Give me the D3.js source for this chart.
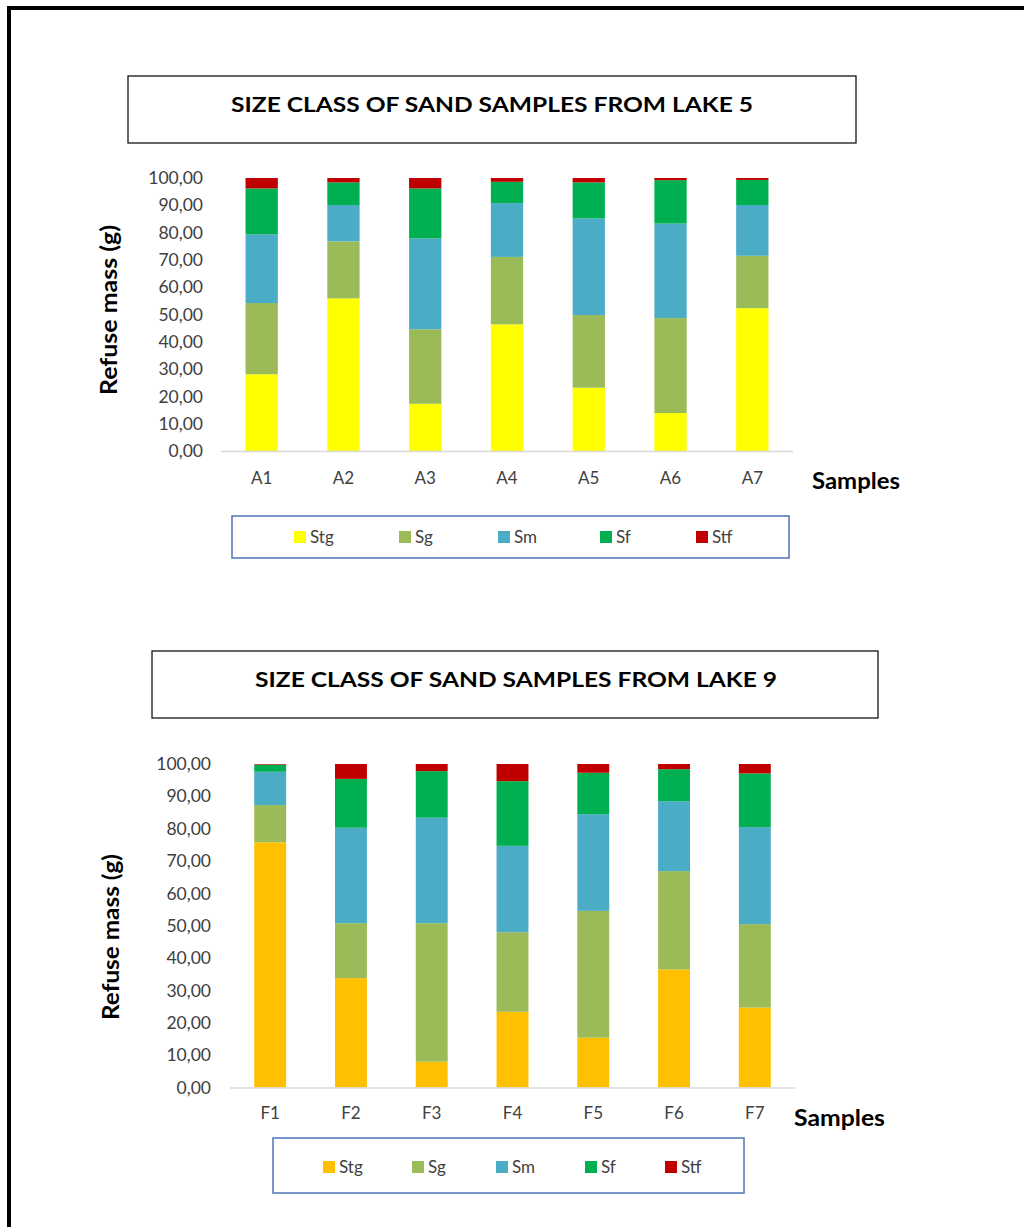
<!DOCTYPE html>
<html><head><meta charset="utf-8">
<script src="https://cdn.jsdelivr.net/npm/d3@7"></script>
<style>body{margin:0;background:#fff}svg{display:block}</style>
</head><body>
<script>
const seriesNames = ["Stg","Sg","Sm","Sf","Stf"];
const tickLabels = ["0,00","10,00","20,00","30,00","40,00","50,00","60,00","70,00","80,00","90,00","100,00"];
const tickValues = [0,10,20,30,40,50,60,70,80,90,100];

const lake5Samples = ["A1","A2","A3","A4","A5","A6","A7"];
const lake5Stg = [28.1,55.9,17.3,46.4,23.2,13.9,52.3];
const lake5Sg  = [26.1,20.9,27.3,24.7,26.6,34.8,19.2];
const lake5Sm  = [25.2,13.3,33.3,19.7,35.4,34.6,18.6];
const lake5Sf  = [16.8,8.3,18.3,7.8,13.2,15.9,9.2];
const lake5Stf = [3.8,1.6,3.8,1.4,1.6,0.8,0.7];

const lake9Samples = ["F1","F2","F3","F4","F5","F6","F7"];
const lake9Stg = [75.8,33.8,8.0,23.4,15.4,36.5,24.7];
const lake9Sg  = [11.5,17.0,42.8,24.6,39.2,30.4,25.8];
const lake9Sm  = [10.3,29.5,32.6,26.7,29.9,21.6,30.0];
const lake9Sf  = [2.2,15.1,14.4,20.0,12.8,9.9,16.6];
const lake9Stf = [0.2,4.6,2.2,5.3,2.7,1.6,2.9];

const lake5Colors = ["#ffff00","#9bbb59","#4bacc6","#00b050","#c00000"];
const lake9Colors = ["#ffc000","#9bbb59","#4bacc6","#00b050","#c00000"];

const svg = d3.select("body").append("svg").attr("width",1024).attr("height",1227);
const FONT = "Lato, 'Open Sans', sans-serif";

// outer frame
svg.append("path").attr("d","M9,1227 V8 H1024").attr("fill","none").attr("stroke","#000").attr("stroke-width",4);

function drawChart(cfg){
  const g = svg.append("g");
  // title box
  g.append("rect").attr("x",cfg.title.x).attr("y",cfg.title.y).attr("width",cfg.title.w).attr("height",cfg.title.h)
    .attr("fill","#fff").attr("stroke","#000").attr("stroke-width",1.2);
  g.append("text").attr("x",cfg.title.tx).attr("y",cfg.title.ty)
    .attr("text-anchor","middle").attr("font-family",FONT).attr("font-weight","bold").attr("font-size",21)
    .attr("textLength",cfg.title.tw).attr("lengthAdjust","spacingAndGlyphs")
    .attr("fill","#000").text(cfg.title.text);

  const x = d3.scaleBand().domain(cfg.samples).range([cfg.x0,cfg.x1]).paddingInner(0.605).paddingOuter(0.3);
  const y = d3.scaleLinear().domain([0,100]).range([cfg.yBottom,cfg.yTop]);

  const rows = cfg.samples.map((s,i)=>{const r={sample:s}; seriesNames.forEach((n,k)=>r[n]=cfg.values[k][i]); return r;});
  const stack = d3.stack().keys(seriesNames)(rows);
  const color = d3.scaleOrdinal().domain(seriesNames).range(cfg.colors);

  g.selectAll("g.layer").data(stack).join("g").attr("class","layer").attr("fill",d=>color(d.key))
    .selectAll("rect").data(d=>d).join("rect")
    .attr("x",d=>x(d.data.sample)).attr("width",x.bandwidth())
    .attr("y",d=>y(d[1])).attr("height",d=>y(d[0])-y(d[1]));

  // x axis line
  g.append("line").attr("x1",cfg.x0).attr("x2",cfg.x1).attr("y1",cfg.yBottom+0.5).attr("y2",cfg.yBottom+0.5)
    .attr("stroke","#d9d9d9").attr("stroke-width",1.5);

  // y axis tick labels
  const ya = d3.axisLeft(y).tickValues(tickValues).tickFormat((d,i)=>tickLabels[i]).tickSize(0).tickPadding(0);
  const yg = g.append("g").attr("transform",`translate(${cfg.yLabelX},0)`).call(ya);
  yg.select(".domain").remove();
  yg.selectAll("text").attr("font-family",FONT).attr("font-size",17.5).attr("fill","#404040");

  const xa = d3.axisBottom(x).tickSize(0).tickPadding(0);
  const xg = g.append("g").attr("transform",`translate(0,${cfg.xLabelY})`).call(xa);
  xg.select(".domain").remove();
  xg.selectAll("text").attr("font-family",FONT).attr("font-size",17).attr("fill","#404040");

  // axis titles
  g.append("text").attr("transform",`translate(${cfg.yTitle.x},${cfg.yTitle.y}) rotate(-90)`)
    .attr("text-anchor","middle").attr("font-family",FONT).attr("font-weight","bold").attr("font-size",23)
    .attr("textLength",cfg.yTitle.len).attr("lengthAdjust","spacingAndGlyphs")
    .attr("fill","#000").text("Refuse mass (g)");
  g.append("text").attr("x",cfg.xTitle.x).attr("y",cfg.xTitle.y)
    .attr("font-family",FONT).attr("font-weight","bold").attr("font-size",22)
    .attr("textLength",cfg.xTitle.len).attr("lengthAdjust","spacingAndGlyphs")
    .attr("fill","#000").text("Samples");

  // legend
  const L = cfg.legend;
  g.append("rect").attr("x",L.x).attr("y",L.y).attr("width",L.w).attr("height",L.h)
    .attr("fill","#fff").attr("stroke","#4f73b6").attr("stroke-width",1.5);
  seriesNames.forEach((n,k)=>{
    g.append("rect").attr("x",L.items[k]).attr("y",L.cy-6).attr("width",12).attr("height",12).attr("fill",cfg.colors[k]);
    g.append("text").attr("x",L.items[k]+16).attr("y",L.cy+6).attr("font-family",FONT).attr("font-size",17)
      .attr("fill","#404040").text(n);
  });
}

drawChart({
  samples: lake5Samples,
  values: [lake5Stg,lake5Sg,lake5Sm,lake5Sf,lake5Stf],
  colors: lake5Colors,
  title: {x:128,y:76,w:728,h:67,tx:492,ty:112,tw:522,text:"SIZE CLASS OF SAND SAMPLES FROM LAKE 5"},
  x0:221, x1:793, yTop:178, yBottom:451,
  yLabelX:203, xLabelY:472,
  yTitle:{x:117,y:310,len:170}, xTitle:{x:812,y:489,len:88},
  legend:{x:232,y:516,w:557,h:42,cy:537,items:[294,399,498,600,696]}
});

drawChart({
  samples: lake9Samples,
  values: [lake9Stg,lake9Sg,lake9Sm,lake9Sf,lake9Stf],
  colors: lake9Colors,
  title: {x:152,y:651,w:726,h:67,tx:516,ty:687,tw:522,text:"SIZE CLASS OF SAND SAMPLES FROM LAKE 9"},
  x0:230, x1:795, yTop:764, yBottom:1087.5,
  yLabelX:211, xLabelY:1107,
  yTitle:{x:119,y:937,len:166}, xTitle:{x:794,y:1126,len:91},
  legend:{x:273,y:1138,w:471,h:55,cy:1167,items:[323,412,496,585,665]}
});
</script>
</body></html>
